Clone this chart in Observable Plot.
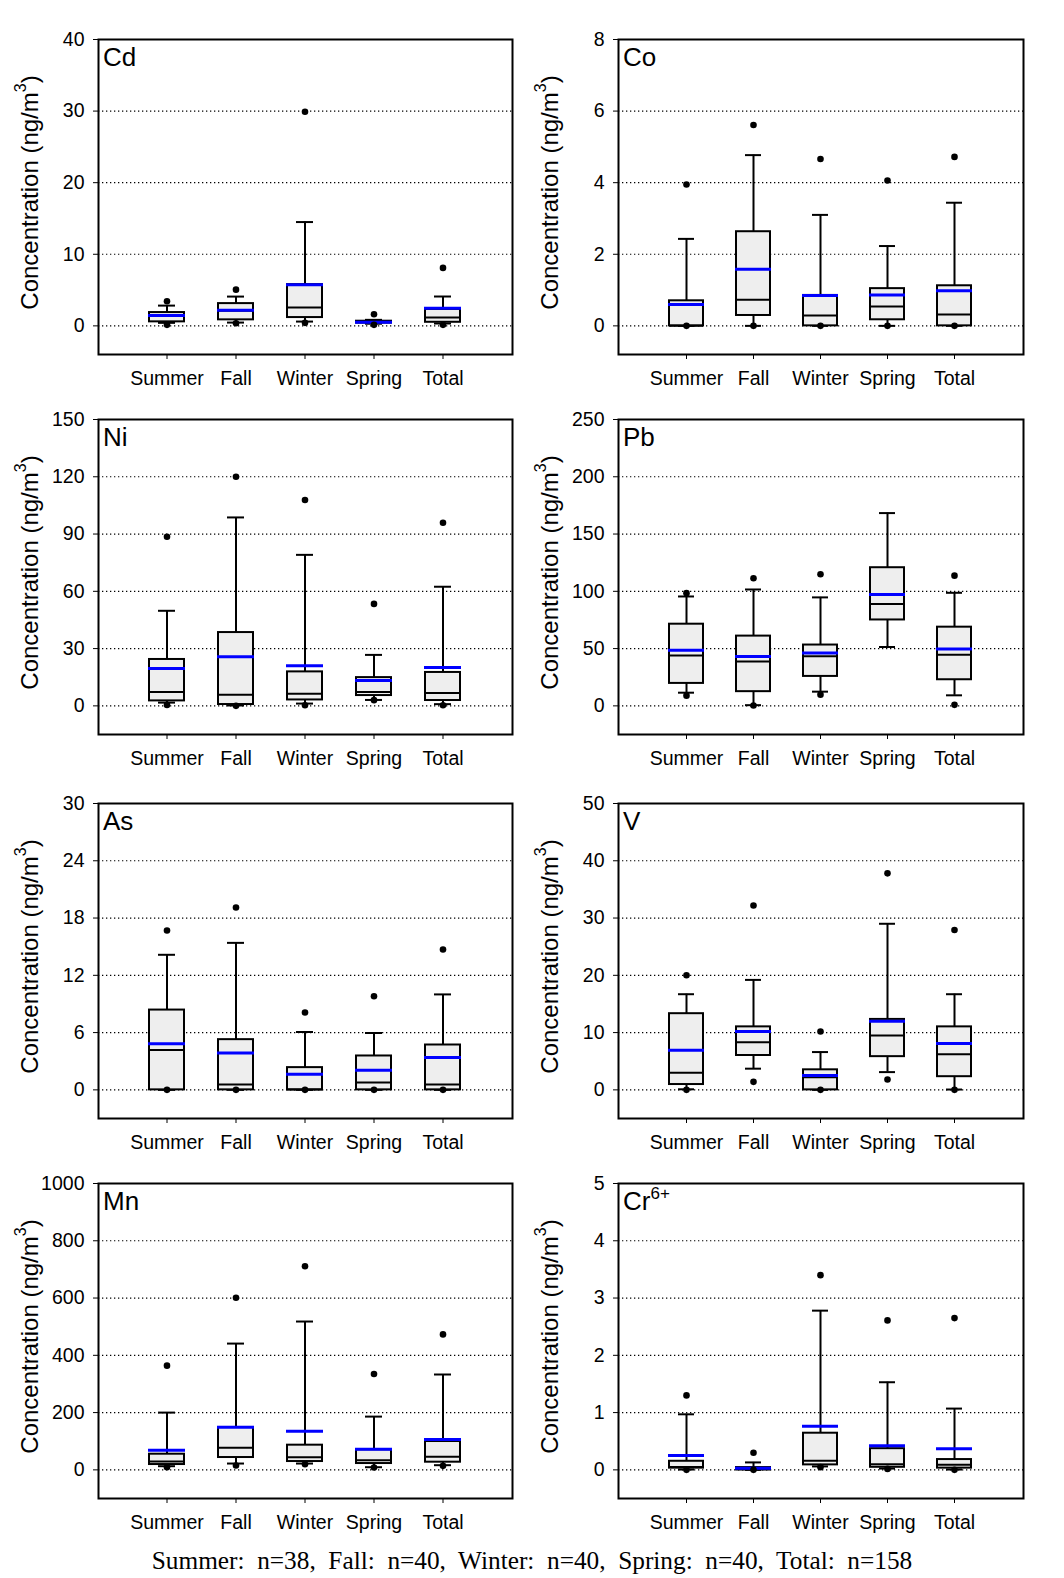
<!DOCTYPE html>
<html><head><meta charset="utf-8">
<script src="https://cdn.jsdelivr.net/npm/d3@7"></script>
<script src="https://cdn.jsdelivr.net/npm/@observablehq/plot@0.6"></script>
<style>
body{margin:0;background:#fff;}
#wrap{position:relative;width:1064px;height:1578px;overflow:hidden;}
#wrap svg{position:absolute;background:transparent;overflow:visible;}
#foot{position:absolute;left:0;width:1064px;text-align:center;font-family:"Liberation Serif","Times New Roman",serif;font-size:25.3px;white-space:pre;color:#000;}
</style></head><body><div id="wrap"></div>
<script>
const seasons = ["Summer", "Fall", "Winter", "Spring", "Total"];
const sampleSizes = [38, 40, 40, 40, 158];
const panelNames = ["Cd", "Co", "Ni", "Pb", "As", "V", "Mn", "Cr"];
const panelSup = ["", "", "", "", "", "", "", "6+"];
const yMax = [40, 8, 150, 250, 30, 50, 1000, 5];
const yStep = [10, 2, 30, 50, 6, 10, 200, 1];
// columns: p5, p10, q1, median, q3, p90, p95, mean
const Cd = [[0.14,0.42,0.56,1.4,1.86,2.83,3.44,1.44],[0.37,0.46,0.84,2.1,3.11,4.09,5.06,2.18],[0.42,0.6,1.16,2.55,5.76,14.5,29.9,5.76],[0.14,0.3,0.4,0.5,0.65,0.84,1.63,0.51],[0.14,0.33,0.5,1.16,2.3,4.1,8.1,2.47]];
const Co = [[0,0,0,0,0.70,2.43,3.95,0.60],[0,0,0.29,0.73,2.63,4.77,5.61,1.58],[0,0,0,0.29,0.85,3.1,4.66,0.85],[0,0,0.17,0.54,1.04,2.23,4.06,0.86],[0,0,0,0.32,1.12,3.44,4.72,0.98]];
const Ni = [[0.5,1.7,2.6,7.3,24.3,49.8,88.6,19.6],[0,0.2,0.7,5.8,38.4,98.7,120,25.7],[0.3,1.2,3.1,6.3,17.8,79.1,107.8,21.0],[3.0,3.1,5.4,7.3,14.8,26.7,53.4,13.3],[0.3,0.9,2.8,6.8,17.5,62.4,95.9,20.1]];
const Pb = [[8.9,11.5,19.6,43.9,71.3,95.5,98.4,48.5],[0.3,0.6,12.4,38.7,60.9,101.6,111.4,43.0],[9.8,12.4,25.7,43.3,53.1,94.7,114.9,46.2],[null,51.4,75.0,88.9,120.6,168.3,null,97.3],[0.9,9.2,22.8,44.7,68.7,98.7,113.7,49.6]];
const As = [[0,0,0,4.18,8.36,14.15,16.7,4.84],[0,0,0,0.56,5.26,15.4,19.1,3.87],[0,0,0,0.05,2.33,6.06,8.1,1.64],[0,0,0,0.77,3.55,5.96,9.8,2.06],[0,0,0,0.56,4.7,10.0,14.7,3.38]];
const V = [[0,0.1,0.93,3.0,13.3,16.7,20.0,6.9],[1.4,3.7,6.0,8.3,11.0,19.2,32.2,10.2],[0,0,0,2.2,3.5,6.6,10.2,2.5],[1.8,3.1,5.8,9.5,12.3,29.0,37.8,12.0],[0,0.06,2.3,6.2,11.0,16.7,27.9,8.1]];
const Mn = [[9.3,12.8,18.6,29.1,54.7,200,364,68.7],[15.1,22.1,43.1,76.9,148,441,601,149],[19.8,22.1,29.1,44.2,86.2,518,711,135],[8.1,9.3,22.1,33.8,70,186,335,72.2],[14,16.3,26.8,45.4,99,333,473,106]];
const Cr = [[0,0.006,0.03,0.05,0.15,0.97,1.30,0.25],[0,0,0,0.01,0.04,0.13,0.30,0.03],[0.047,0.06,0.087,0.16,0.64,2.78,3.40,0.76],[0.017,0.023,0.045,0.10,0.37,1.53,2.61,0.42],[0,0.006,0.03,0.09,0.18,1.07,2.65,0.37]];
const panelData = [Cd, Co, Ni, Pb, As, V, Mn, Cr];

const wrap = document.getElementById("wrap");
const colLeft = [0, 530], colWidth = [530, 534], colML = [98, 88], colMR = [18, 41];
const rowFrameTop = [39, 419, 803, 1183];
const MT = 35, PH = 315, MB = 45, H = MT + PH + MB;
const FONT = "'Liberation Sans', Arial, sans-serif";

panelData.forEach((d, k) => {
  const col = k % 2, row = Math.floor(k / 2);
  const max = yMax[k], step = yStep[k];
  const rows = seasons.map((s, i) => ({season: s, p5: d[i][0], p10: d[i][1], q1: d[i][2], median: d[i][3], q3: d[i][4], p90: d[i][5], p95: d[i][6], mean: d[i][7]}));
  const ticks = d3.range(0, max + step / 2, step);
  const W = colWidth[col], ML = colML[col], MR = colMR[col];
  const svg = Plot.plot({
    width: W, height: H, marginLeft: ML, marginRight: MR, marginTop: MT, marginBottom: MB,
    style: {fontFamily: FONT, fontSize: "19.5px", background: "transparent", color: "black", overflow: "visible"},
    x: {type: "band", domain: seasons, paddingInner: 0.49, paddingOuter: 0.745, label: null},
    y: {domain: [-0.1 * max, max], label: null},
    marks: [
      Plot.ruleY(ticks.filter(t => t < max), {stroke: "black", strokeWidth: 1.2, strokeDasharray: "1.3,2.7"}),
      Plot.ruleX(rows, {x: "season", y1: "p10", y2: "q1", stroke: "black", strokeWidth: 2}),
      Plot.ruleX(rows, {x: "season", y1: "q3", y2: "p90", stroke: "black", strokeWidth: 2}),
      Plot.tickY(rows, {x: "season", y: "p10", stroke: "black", strokeWidth: 2, insetLeft: 9, insetRight: 9}),
      Plot.tickY(rows, {x: "season", y: "p90", stroke: "black", strokeWidth: 2, insetLeft: 9, insetRight: 9}),
      Plot.barY(rows, {x: "season", y1: "q1", y2: "q3", fill: "#eeeeee", stroke: "black", strokeWidth: 2}),
      Plot.tickY(rows, {x: "season", y: "median", stroke: "black", strokeWidth: 2}),
      Plot.tickY(rows, {x: "season", y: "mean", stroke: "#0000ff", strokeWidth: 3, insetLeft: -1, insetRight: -1}),
      Plot.dot(rows.filter(r => r.p5 != null), {x: "season", y: "p5", r: 3.3, fill: "black"}),
      Plot.dot(rows.filter(r => r.p95 != null), {x: "season", y: "p95", r: 3.3, fill: "black"}),
      Plot.frame({stroke: "black", strokeWidth: 2}),
      Plot.axisY({ticks, tickSize: 5, tickPadding: 9, fontSize: 19.5, label: null, tickFormat: t => String(t)}),
      Plot.axisX({tickSize: 5, tickPadding: 12, fontSize: 19.5, label: null})
    ]
  });
  svg.style.left = colLeft[col] + "px";
  svg.style.top = (rowFrameTop[row] - MT) + "px";
  const s = d3.select(svg);
  // y-axis title
  const yl = s.append("text")
    .attr("transform", `translate(${ML - 66},${MT + PH / 2 - 4}) rotate(-90)`)
    .attr("text-anchor", "middle").attr("dominant-baseline", "middle")
    .attr("font-family", FONT).attr("font-size", 24).attr("fill", "black");
  yl.append("tspan").text("Concentration (ng/m");
  yl.append("tspan").attr("dy", -10).attr("font-size", 16).text("3");
  yl.append("tspan").attr("dy", 10).text(")");
  // panel label
  const pl = s.append("text").attr("x", ML + 5).attr("y", MT + 27)
    .attr("text-anchor", "start")
    .attr("font-family", FONT).attr("font-size", 26).attr("fill", "black");
  pl.append("tspan").text(panelNames[k]);
  if (panelSup[k]) pl.append("tspan").attr("dy", -11).attr("font-size", 17).text(panelSup[k]);
  wrap.appendChild(svg);
});

const foot = document.createElement("div");
foot.id = "foot";
foot.style.top = "1546px";
foot.textContent = seasons.map((s, i) => `${s}:  n=${sampleSizes[i]}`).join(",  ");
wrap.appendChild(foot);
</script>
</body></html>
